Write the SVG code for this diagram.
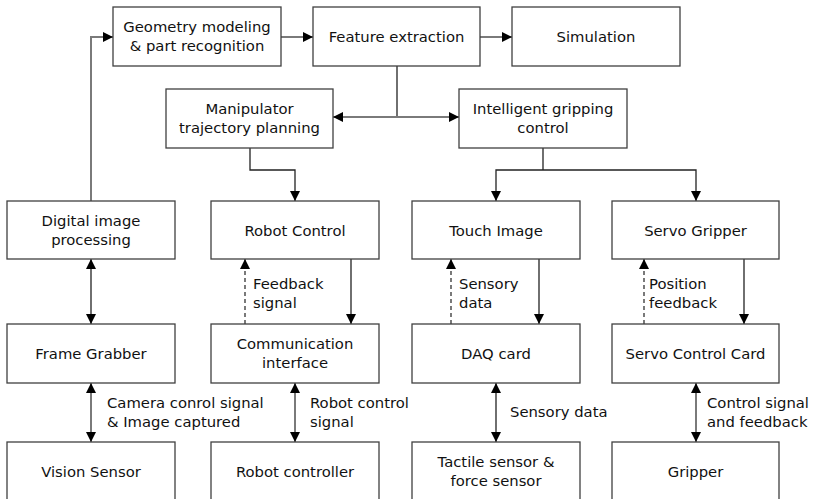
<svg xmlns="http://www.w3.org/2000/svg" width="815" height="499" viewBox="0 0 815 499">
<style>
  .box rect { fill: #ffffff; stroke: #404040; stroke-width: 1.3; }
  .box text, .lbl { font-family: "DejaVu Sans", sans-serif; font-size: 14.8px; fill: #111; }
  .box text { text-anchor: middle; }
  .k { stroke: #222; stroke-width: 1.3; fill: none; }
  .g { stroke: #7a7a7a; stroke-width: 2; fill: none; }
  .d { stroke: #222; stroke-width: 1.2; fill: none; stroke-dasharray: 4 3; }
</style>
<defs>
  <marker id="a" viewBox="0 0 10 10" refX="10" refY="5" markerUnits="userSpaceOnUse" markerWidth="11" markerHeight="10" orient="auto-start-reverse">
    <path d="M0,0 L10,5 L0,10 z" fill="#000"/>
  </marker>
  <marker id="b" viewBox="0 0 10 10" refX="10" refY="5" markerUnits="userSpaceOnUse" markerWidth="13" markerHeight="10" orient="auto-start-reverse">
    <path d="M0,0 L10,5 L0,10 z" fill="#000"/>
  </marker>
</defs>
<rect width="815" height="499" fill="#ffffff"/>

<g id="connectors">
  <polyline class="g" points="91,201 91,37 113,37" marker-end="url(#a)"/>
  <line class="g" x1="281" y1="37" x2="313" y2="37" marker-end="url(#a)"/>
  <line class="g" x1="480" y1="37" x2="512" y2="37" marker-end="url(#a)"/>
  <line class="k" x1="397" y1="66" x2="397" y2="117"/>
  <line class="g" x1="333" y1="117" x2="459" y2="117" marker-start="url(#a)" marker-end="url(#a)"/>
  <polyline class="k" points="250,148 250,170 295,170 295,201" marker-end="url(#a)"/>
  <line class="k" x1="543" y1="148" x2="543" y2="170"/>
  <polyline class="k" points="496,201 496,170 696,170 696,201" marker-start="url(#a)" marker-end="url(#a)"/>
  <line class="k" x1="91" y1="259" x2="91" y2="324" marker-start="url(#b)" marker-end="url(#b)"/>
  <line class="d" x1="245" y1="324" x2="245" y2="259" marker-end="url(#a)"/>
  <line class="k" x1="351" y1="259" x2="351" y2="324" marker-end="url(#a)"/>
  <line class="d" x1="451" y1="324" x2="451" y2="259" marker-end="url(#a)"/>
  <line class="k" x1="539" y1="259" x2="539" y2="324" marker-end="url(#a)"/>
  <line class="d" x1="644" y1="324" x2="644" y2="259" marker-end="url(#a)"/>
  <line class="k" x1="744" y1="259" x2="744" y2="324" marker-end="url(#a)"/>
  <line class="g" x1="91" y1="383" x2="91" y2="442" marker-start="url(#b)" marker-end="url(#b)"/>
  <line class="g" x1="295" y1="383" x2="295" y2="442" marker-start="url(#b)" marker-end="url(#b)"/>
  <line class="k" x1="496" y1="383" x2="496" y2="442" marker-start="url(#b)" marker-end="url(#b)"/>
  <line class="g" x1="696" y1="383" x2="696" y2="442" marker-start="url(#b)" marker-end="url(#b)"/>
</g>

<g id="labels">
  <text class="lbl" x="253" y="289">Feedback</text>
  <text class="lbl" x="253" y="308">signal</text>
  <text class="lbl" x="459" y="289">Sensory</text>
  <text class="lbl" x="459" y="308">data</text>
  <text class="lbl" x="649" y="289">Position</text>
  <text class="lbl" x="649" y="308">feedback</text>
  <text class="lbl" x="107" y="408">Camera conrol signal</text>
  <text class="lbl" x="107" y="427">&amp; Image captured</text>
  <text class="lbl" x="310" y="408">Robot control</text>
  <text class="lbl" x="310" y="427">signal</text>
  <text class="lbl" x="510" y="417">Sensory data</text>
  <text class="lbl" x="707" y="408">Control signal</text>
  <text class="lbl" x="707" y="427">and feedback</text>
</g>

<g id="geometry" class="box"><rect x="113" y="7" width="168" height="59"/><text x="197" y="32">Geometry modeling</text><text x="197" y="51">&amp; part recognition</text></g>
<g id="feature" class="box"><rect x="313" y="7" width="167" height="59"/><text x="396.5" y="42">Feature extraction</text></g>
<g id="simulation" class="box"><rect x="512" y="7" width="168" height="59"/><text x="596" y="42">Simulation</text></g>

<g id="manipulator" class="box"><rect x="166" y="89" width="167" height="59"/><text x="249.5" y="114">Manipulator</text><text x="249.5" y="133">trajectory planning</text></g>
<g id="intelligent" class="box"><rect x="459" y="89" width="168" height="59"/><text x="543" y="114">Intelligent gripping</text><text x="543" y="133">control</text></g>

<g id="digital" class="box"><rect x="7" y="201" width="168" height="58"/><text x="91" y="225.5">Digital image</text><text x="91" y="244.5">processing</text></g>
<g id="robotcontrol" class="box"><rect x="211" y="201" width="168" height="58"/><text x="295" y="235.5">Robot Control</text></g>
<g id="touch" class="box"><rect x="412" y="201" width="168" height="58"/><text x="496" y="235.5">Touch Image</text></g>
<g id="servogripper" class="box"><rect x="612" y="201" width="167" height="58"/><text x="695.5" y="235.5">Servo Gripper</text></g>

<g id="frame" class="box"><rect x="7" y="324" width="168" height="59"/><text x="91" y="359">Frame Grabber</text></g>
<g id="comm" class="box"><rect x="211" y="324" width="168" height="59"/><text x="295" y="349">Communication</text><text x="295" y="368">interface</text></g>
<g id="daq" class="box"><rect x="412" y="324" width="168" height="59"/><text x="496" y="359">DAQ card</text></g>
<g id="servocard" class="box"><rect x="612" y="324" width="167" height="59"/><text x="695.5" y="359">Servo Control Card</text></g>

<g id="vision" class="box"><rect x="7" y="442" width="168" height="60"/><text x="91" y="477">Vision Sensor</text></g>
<g id="robotctrl" class="box"><rect x="211" y="442" width="168" height="60"/><text x="295" y="477">Robot controller</text></g>
<g id="tactile" class="box"><rect x="412" y="442" width="168" height="60"/><text x="496" y="467">Tactile sensor &amp;</text><text x="496" y="486">force sensor</text></g>
<g id="gripper" class="box"><rect x="612" y="442" width="167" height="60"/><text x="695.5" y="477">Gripper</text></g>
</svg>
